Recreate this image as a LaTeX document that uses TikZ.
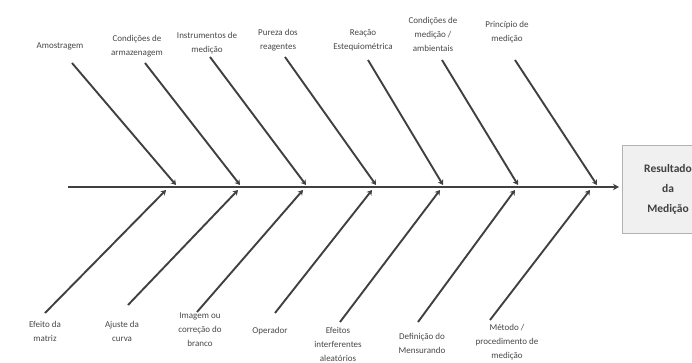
\documentclass[tikz,border=0pt]{standalone}
\usepackage{fontspec}
\setmainfont{Carlito}
\usetikzlibrary{arrows.meta}
\begin{document}
\begin{tikzpicture}[x=1pt,y=-1pt,
  lbl/.style={font=\fontsize{9}{14}\selectfont, text=black!72, align=center, inner sep=0pt},
  rib/.style={draw=black!75, line width=1.9pt, -{Stealth[length=5pt,width=6pt]}},
  spine/.style={draw=black!75, line width=2pt, -{Stealth[length=6pt,width=6.5pt]}},
  resbox/.style={draw=black!30, fill=black!6, minimum width=92pt, minimum height=88pt, align=center,
    font=\fontsize{11.5}{20}\selectfont\bfseries, text=black!75, inner sep=0pt}
  ]
\useasboundingbox (0,0) rectangle (692,363);
% result box
\node[resbox] (res) at (668,189) {Resultado\\da\\Medição};
% spine
\coordinate (sp0) at (68,187);
\coordinate (sp1) at (619,187);
\draw[spine] (sp0) -- (sp1);
% top labels
\node[lbl] (t1) at (60,46) {Amostragem};
\node[lbl] (t2) at (137,46) {Condições de\\armazenagem};
\node[lbl] (t3) at (207,43) {Instrumentos de\\medição};
\node[lbl] (t4) at (278,40) {Pureza dos\\reagentes};
\node[lbl] (t5) at (363,40) {Reação\\Estequiométrica};
\node[lbl] (t6) at (433,34) {Condições de\\medição /\\ambientais};
\node[lbl] (t7) at (507,32) {Princípio de\\medição};
% top ribs
\coordinate (s1) at (72,63);   \coordinate (e1) at (176,185);
\coordinate (s2) at (145,63);  \coordinate (e2) at (240,185);
\coordinate (s3) at (210,57);  \coordinate (e3) at (306,185);
\coordinate (s4) at (285,57);  \coordinate (e4) at (376,185);
\coordinate (s5) at (368,60);  \coordinate (e5) at (443,185);
\coordinate (s6) at (442,60);  \coordinate (e6) at (518,185);
\coordinate (s7) at (515,60);  \coordinate (e7) at (597,185);
\foreach \i in {1,...,7} {\draw[rib] (s\i) -- (e\i);}
% bottom labels
\node[lbl] (l1) at (45,331) {Efeito da\\matriz};
\node[lbl] (l2) at (122,331) {Ajuste da\\curva};
\node[lbl] (l3) at (200,330) {Imagem ou\\correção do\\branco};
\node[lbl] (l4) at (270,331) {Operador};
\node[lbl] (l5) at (338,344) {Efeitos\\interferentes\\aleatórios};
\node[lbl] (l6) at (422,343) {Definição do\\Mensurando};
\node[lbl] (l7) at (507,342) {Método /\\procedimento de\\medição};
% bottom ribs
\coordinate (u1) at (45,313);  \coordinate (f1) at (166,190);
\coordinate (u2) at (128,305); \coordinate (f2) at (238,190);
\coordinate (u3) at (197,312); \coordinate (f3) at (303,190);
\coordinate (u4) at (275,313); \coordinate (f4) at (372,190);
\coordinate (u5) at (340,322); \coordinate (f5) at (440,190);
\coordinate (u6) at (418,322); \coordinate (f6) at (515,190);
\coordinate (u7) at (490,320); \coordinate (f7) at (590,190);
\foreach \i in {1,...,7} {\draw[rib] (u\i) -- (f\i);}
\end{tikzpicture}
\end{document}
